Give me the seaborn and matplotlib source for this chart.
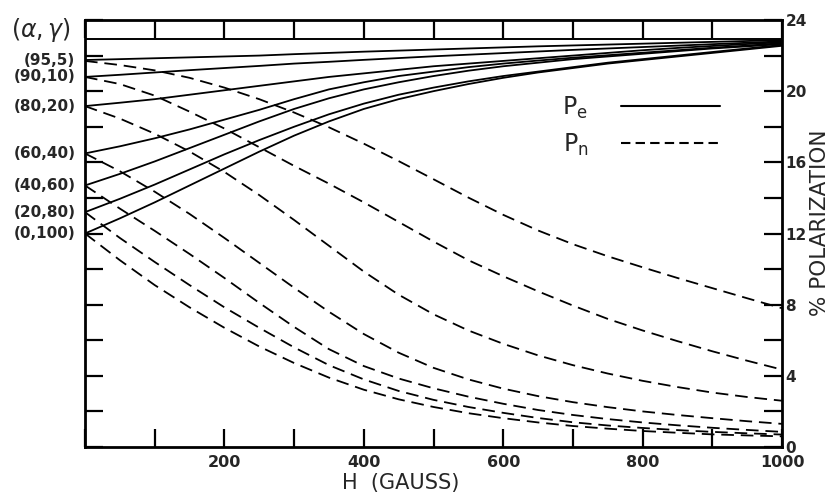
import numpy as np
import pandas as pd
import matplotlib
matplotlib.use("Agg")
import matplotlib.pyplot as plt
import seaborn as sns
from matplotlib.lines import Line2D
from matplotlib.ticker import MultipleLocator

# field H (gauss)
H = [0, 50, 100, 150, 200, 250, 300, 350, 400, 450, 500,
     550, 600, 650, 700, 750, 800, 850, 900, 950, 1000]

mixes = ["(95,5)", "(90,10)", "(80,20)", "(60,40)", "(40,60)", "(20,80)", "(0,100)"]

# electron polarization Pe (%)
pe_95_5 = [21.75, 21.8, 21.85, 21.9, 21.95, 22.0, 22.08, 22.15, 22.22, 22.28, 22.34,
           22.4, 22.46, 22.52, 22.57, 22.62, 22.67, 22.72, 22.77, 22.82, 22.87]
pe_90_10 = [20.8, 20.92, 21.05, 21.18, 21.3, 21.42, 21.55, 21.65, 21.76, 21.86, 21.96,
            22.05, 22.14, 22.23, 22.32, 22.4, 22.48, 22.56, 22.64, 22.72, 22.8]
pe_80_20 = [19.16, 19.35, 19.55, 19.8, 20.05, 20.3, 20.55, 20.8, 21.0, 21.2, 21.4,
            21.55, 21.7, 21.85, 22.0, 22.15, 22.3, 22.43, 22.54, 22.65, 22.75]
pe_60_40 = [16.5, 16.9, 17.35, 17.85, 18.4, 18.95, 19.55, 20.1, 20.5, 20.85, 21.1,
            21.35, 21.55, 21.72, 21.88, 22.02, 22.16, 22.3, 22.44, 22.56, 22.7]
pe_40_60 = [14.7, 15.35, 16.05, 16.8, 17.55, 18.3, 19.0, 19.6, 20.1, 20.5, 20.85,
            21.15, 21.4, 21.6, 21.8, 21.95, 22.1, 22.25, 22.4, 22.52, 22.65]
pe_20_80 = [13.2, 13.95, 14.75, 15.6, 16.45, 17.25, 18.0, 18.7, 19.3, 19.8, 20.2,
            20.55, 20.85, 21.1, 21.35, 21.6, 21.8, 22.0, 22.2, 22.4, 22.6]
pe_0_100 = [12.0, 12.85, 13.75, 14.7, 15.65, 16.6, 17.5, 18.3, 19.0, 19.55, 20.0,
            20.4, 20.75, 21.05, 21.3, 21.55, 21.75, 21.95, 22.15, 22.35, 22.55]

# nuclear polarization Pn (%)
pn_95_5 = [21.7, 21.47, 21.17, 20.75, 20.2, 19.55, 18.8, 17.97, 17.05, 16.07, 15.05,
           14.02, 13.05, 12.17, 11.4, 10.72, 10.1, 9.5, 8.93, 8.36, 7.8]
pn_90_10 = [20.8, 20.4, 19.75, 18.85, 17.9, 16.85, 15.8, 14.8, 13.75, 12.65, 11.55,
            10.5, 9.6, 8.75, 7.95, 7.2, 6.55, 5.95, 5.38, 4.85, 4.35]
pn_80_20 = [19.16, 18.46, 17.61, 16.61, 15.46, 14.16, 12.76, 11.31, 9.86, 8.56, 7.46,
            6.55, 5.8, 5.15, 4.6, 4.13, 3.72, 3.37, 3.06, 2.81, 2.6]
pn_60_40 = [16.5, 15.5, 14.35, 13.1, 11.75, 10.35, 8.95, 7.6, 6.35, 5.3, 4.45,
            3.8, 3.28, 2.86, 2.52, 2.24, 2.0, 1.8, 1.62, 1.45, 1.3]
pn_40_60 = [14.7, 13.4, 12.15, 10.85, 9.5, 8.1, 6.75, 5.5, 4.55, 3.85, 3.3,
            2.83, 2.43, 2.08, 1.8, 1.57, 1.38, 1.22, 1.08, 0.96, 0.85]
pn_20_80 = [13.2, 11.75, 10.4, 9.1, 7.85, 6.7, 5.6, 4.6, 3.8, 3.15, 2.65,
            2.25, 1.92, 1.63, 1.39, 1.21, 1.07, 0.95, 0.85, 0.77, 0.7]
pn_0_100 = [12.0, 10.5, 9.1, 7.85, 6.7, 5.65, 4.72, 3.9, 3.22, 2.68, 2.25,
            1.9, 1.62, 1.38, 1.18, 1.03, 0.9, 0.8, 0.71, 0.65, 0.6]

pe_all = [pe_95_5, pe_90_10, pe_80_20, pe_60_40, pe_40_60, pe_20_80, pe_0_100]
pn_all = [pn_95_5, pn_90_10, pn_80_20, pn_60_40, pn_40_60, pn_20_80, pn_0_100]

rows = []
for m, pe, pn in zip(mixes, pe_all, pn_all):
    for h, a, b in zip(H, pe, pn):
        rows.append({"H": h, "P": a, "kind": "Pe", "mix": m, "unit": m + "e"})
        rows.append({"H": h, "P": b, "kind": "Pn", "mix": m, "unit": m + "n"})
df = pd.DataFrame(rows)

sns.set_style("white")
plt.rcParams["font.family"] = ["DejaVu Sans"]

fig = plt.figure(figsize=(8.33, 4.99), dpi=100)
ax = fig.add_axes([85 / 833, 1 - 447 / 499, 697 / 833, 427 / 499])

sns.lineplot(data=df, x="H", y="P", units="unit", estimator=None, style="kind",
             dashes={"Pe": "", "Pn": (7, 3.8)}, color="black", lw=1.3,
             legend=False, ax=ax, sort=False)

ax.axhline(22.95, color="black", lw=1.4)
ax.set_xlim(0, 1000)
ax.set_ylim(0, 24)

for s in ax.spines.values():
    s.set_visible(True)
    s.set_linewidth(2.0)
    s.set_color("black")

ax.xaxis.set_major_locator(MultipleLocator(200))
ax.xaxis.set_minor_locator(MultipleLocator(100))
ax.yaxis.set_major_locator(MultipleLocator(4))
ax.yaxis.set_minor_locator(MultipleLocator(2))
ax.tick_params(axis="both", which="both", direction="in", length=12.8, width=1.6,
               color="black", top=True, bottom=True, left=True, right=True)
ax.tick_params(axis="y", labelleft=False, labelright=True, pad=2.5)
ax.tick_params(axis="x", pad=6)
ax.set_xticks([200, 400, 600, 800, 1000])
for lab in ax.get_xticklabels():
    lab.set_fontweight("bold")
    lab.set_fontsize(11.5)
for lab in ax.get_yticklabels():
    lab.set_fontweight("bold")
    lab.set_fontsize(11)

ax.set_xlabel("H  (GAUSS)", fontsize=15)
ax.xaxis.set_label_coords(0.453, -0.062)
ax.yaxis.set_label_position("right")
ax.set_ylabel("% POLARIZATION", fontsize=15.5, rotation=90, va="center", ha="center")
ax.yaxis.set_label_coords(1.054, 0.525)

for m, pe in zip(mixes, pe_all):
    ax.annotate(m, xy=(0, pe[0]), xytext=(-7, 0), textcoords="offset points",
                ha="right", va="center", fontsize=11, fontweight="bold")
fig.text(41 / 833, 1 - 30 / 499, r"$(\alpha,\gamma)$", ha="center", va="center", fontsize=17)

handles = [Line2D([], [], color="black", lw=1.5),
           Line2D([], [], color="black", lw=1.5, ls=(0, (4.5, 2.5)))]
ax.legend(handles=handles, labels=[r"$\mathregular{P_e}$", r"$\mathregular{P_n}$"],
          markerfirst=False, frameon=False, handlelength=4.2, handletextpad=1.4,
          labelspacing=0.45, fontsize=17, loc="upper left",
          bbox_to_anchor=(0.685, 0.825), borderpad=0, borderaxespad=0)

fig.savefig("out.png", dpi=100)
